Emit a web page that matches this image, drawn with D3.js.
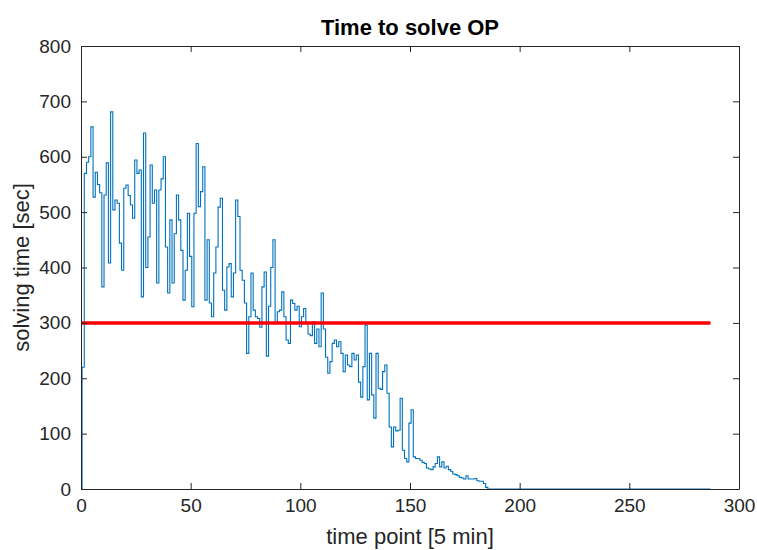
<!DOCTYPE html>
<html>
<head>
<style>
    body { margin: 0; background: #fff; }
    text { font-family: "Liberation Sans", Arial, sans-serif; fill: #262626; }
    .tick-label { font-size: 19px; }
    .axis-label { font-size: 22px; }
    .title { font-size: 22px; font-weight: bold; fill: #000; }
</style>
<script src="https://d3js.org/d3.v7.min.js"></script>
</head>
<body>
<svg width="757" height="550"></svg>
<script>
    // solving time per time point (index = time point)
    var solveTimes = [
        0, 220, 570, 590, 600, 654, 527, 572, 550, 535,
        365, 531, 589, 408, 681, 504, 522, 516, 444, 395,
        543, 549, 530, 513, 489, 594, 570, 576, 347, 643,
        400, 455, 585, 516, 540, 372, 540, 560, 600, 437,
        354, 486, 372, 461, 531, 486, 431, 341, 395, 498,
        420, 329, 498, 624, 510, 537, 582, 341, 450, 336,
        311, 390, 437, 509, 525, 359, 323, 401, 407, 347,
        390, 522, 492, 395, 377, 336, 245, 311, 390, 323,
        311, 308, 292, 365, 392, 240, 330, 400, 450, 300,
        320, 323, 356, 311, 269, 263, 341, 335, 323, 330,
        293, 311, 326, 300, 280, 277, 302, 263, 289, 257,
        354, 289, 238, 209, 230, 263, 269, 257, 266, 245,
        212, 242, 224, 221, 245, 233, 242, 193, 166, 221,
        296, 161, 245, 170, 128, 245, 182, 180, 212, 224,
        173, 112, 76, 112, 105, 106, 164, 70, 55, 49,
        119, 143, 58, 55, 55, 52, 48, 46, 38, 36,
        35, 40, 46, 58, 40, 49, 38, 41, 35, 32,
        27, 26, 24, 21, 20, 18, 24, 18, 18, 18,
        19, 15, 14, 14, 10, 3
    ];
    var lastPoint = 287;
    while (solveTimes.length <= lastPoint) solveTimes.push(0);

    var limitValue = 300;
    var xTicks = [0, 50, 100, 150, 200, 250, 300];
    var yTicks = [0, 100, 200, 300, 400, 500, 600, 700, 800];

    var margin = { left: 81, right: 18, top: 46, bottom: 61 };
    var width = 757, height = 550;

    var svg = d3.select('svg');

    var x = d3.scaleLinear().domain([0, 300]).range([margin.left, width - margin.right]);
    var y = d3.scaleLinear().domain([0, 800]).range([height - margin.bottom, margin.top]);

    var tickLen = 6;
    var axisColor = '#262626';

    // data line
    var line = d3.line()
        .curve(d3.curveStep)
        .x(function (d, i) { return x(i); })
        .y(function (d) { return y(d); });

    svg.append('path')
        .datum(solveTimes)
        .attr('d', line)
        .attr('fill', 'none')
        .attr('stroke', '#0072BD')
        .attr('stroke-width', 1.1);

    // limit line
    svg.append('line')
        .attr('x1', x(0)).attr('x2', x(lastPoint))
        .attr('y1', y(limitValue)).attr('y2', y(limitValue))
        .attr('stroke', '#FF0000')
        .attr('stroke-width', 3.5);

    // axes (ticks point inward, box on)
    var xAxis = d3.axisBottom(x).tickValues(xTicks).tickSizeInner(-tickLen).tickSizeOuter(0).tickPadding(10);
    var yAxis = d3.axisLeft(y).tickValues(yTicks).tickSizeInner(-tickLen).tickSizeOuter(0).tickPadding(10);
    var xTop = d3.axisTop(x).tickValues(xTicks).tickSizeInner(-tickLen).tickSizeOuter(0).tickFormat('');
    var yRight = d3.axisRight(y).tickValues(yTicks).tickSizeInner(-tickLen).tickSizeOuter(0).tickFormat('');

    svg.append('g').attr('transform', 'translate(0,' + y(0) + ')').call(xAxis);
    svg.append('g').attr('transform', 'translate(' + x(0) + ',0)').call(yAxis);
    svg.append('g').attr('transform', 'translate(0,' + y(800) + ')').call(xTop);
    svg.append('g').attr('transform', 'translate(' + x(300) + ',0)').call(yRight);

    svg.selectAll('.domain, .tick line').attr('stroke', axisColor);
    svg.selectAll('.tick text')
        .attr('class', 'tick-label')
        .attr('font-family', null).attr('font-size', null)
        .style('fill', axisColor);

    // labels
    svg.append('text')
        .attr('class', 'axis-label')
        .attr('x', (x(0) + x(300)) / 2).attr('y', 544)
        .attr('text-anchor', 'middle')
        .text('time point [5 min]');

    svg.append('text')
        .attr('class', 'axis-label')
        .attr('transform', 'translate(29,' + (y(0) + y(800)) / 2 + ') rotate(-90)')
        .attr('text-anchor', 'middle')
        .text('solving time [sec]');

    svg.append('text')
        .attr('class', 'title')
        .attr('x', (x(0) + x(300)) / 2).attr('y', 35)
        .attr('text-anchor', 'middle')
        .text('Time to solve OP');
</script>
</body>
</html>
